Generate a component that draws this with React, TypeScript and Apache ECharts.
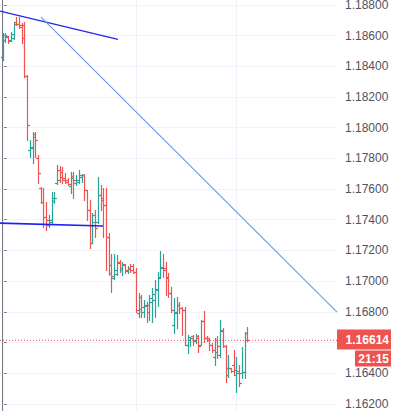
import React, { useEffect, useRef } from "react";
import * as echarts from "echarts";

// OHLC bars (EURUSD-like), one entry per bar, left to right
const opens = [
  1.1846, 1.1857, 1.1859, 1.1857, 1.18583, 1.18688, 1.18675, 1.18655, 1.18668, 1.18336,
  1.17854, 1.17867, 1.17958, 1.17802, 1.17606, 1.17515, 1.17417, 1.17365, 1.17385, 1.17521,
  1.17639, 1.17723, 1.1771, 1.17671, 1.17658, 1.17619, 1.17684, 1.17639, 1.17645, 1.17678,
  1.17691, 1.17593, 1.17463, 1.17248, 1.1743, 1.17385, 1.17561, 1.17541, 1.17495, 1.17287,
  1.17105, 1.1702, 1.17046, 1.17124, 1.17072, 1.17111, 1.17065, 1.17085, 1.17098, 1.17059,
  1.16792, 1.16896, 1.16798, 1.16837, 1.16844, 1.16863, 1.16876, 1.16942, 1.17026, 1.17092,
  1.17085, 1.1702, 1.16922, 1.16714, 1.16792, 1.16844, 1.16824, 1.16811, 1.16583, 1.16616,
  1.16642, 1.16609, 1.16629, 1.16583, 1.1674, 1.16629, 1.16629, 1.16583, 1.16505, 1.16616,
  1.16518, 1.16681, 1.16577, 1.16388, 1.16433, 1.16453, 1.16388, 1.16414, 1.16401, 1.16407,
  1.16661,
];
const highs = [
  1.18616, 1.18616, 1.18596, 1.18623, 1.18681, 1.1872, 1.1872, 1.18681, 1.18688, 1.18342,
  1.17919, 1.17971, 1.17971, 1.17821, 1.17613, 1.17606, 1.17515, 1.1743, 1.1758, 1.1758,
  1.17756, 1.1775, 1.17743, 1.17704, 1.17671, 1.1771, 1.1771, 1.17691, 1.17723, 1.17697,
  1.17697, 1.17593, 1.17528, 1.17443, 1.17463, 1.17678, 1.17626, 1.17606, 1.17606, 1.17313,
  1.17176, 1.17176, 1.1717, 1.17137, 1.17124, 1.17111, 1.17098, 1.17111, 1.17111, 1.17085,
  1.16922, 1.16909, 1.16876, 1.16863, 1.16909, 1.16955, 1.17007, 1.17059, 1.17196, 1.17176,
  1.17124, 1.17052, 1.16961, 1.1689, 1.16896, 1.16863, 1.16831, 1.16831, 1.16648, 1.16635,
  1.16648, 1.16655, 1.16648, 1.16746, 1.16805, 1.16642, 1.16629, 1.16596, 1.16629, 1.16642,
  1.16746, 1.16694, 1.16583, 1.16518, 1.16433, 1.16551, 1.16505, 1.16453, 1.1657, 1.16667,
  1.16701,
];
const lows = [
  1.1844, 1.18557, 1.18551, 1.18564, 1.18577, 1.18668, 1.18649, 1.18551, 1.18329, 1.17919,
  1.17808, 1.17769, 1.17808, 1.17639, 1.17508, 1.17352, 1.17333, 1.17352, 1.17378, 1.17508,
  1.17632, 1.17645, 1.17639, 1.17639, 1.17626, 1.17574, 1.17541, 1.17626, 1.17639, 1.17645,
  1.17528, 1.17398, 1.17215, 1.17248, 1.17287, 1.17378, 1.17463, 1.17287, 1.17072, 1.17039,
  1.16929, 1.17013, 1.17039, 1.17059, 1.17039, 1.17052, 1.17052, 1.17059, 1.17052, 1.16798,
  1.16766, 1.16766, 1.16766, 1.16733, 1.16746, 1.16733, 1.16766, 1.16837, 1.1702, 1.17026,
  1.16909, 1.16896, 1.16798, 1.16661, 1.16694, 1.16792, 1.16648, 1.16583, 1.16531, 1.16577,
  1.16583, 1.16596, 1.16538, 1.16583, 1.16603, 1.16609, 1.16551, 1.16538, 1.16453, 1.16499,
  1.16505, 1.1657, 1.16342, 1.16375, 1.16407, 1.16394, 1.16277, 1.16316, 1.16368, 1.16368,
  1.16609,
];
const closes = [
  1.18603, 1.18596, 1.18564, 1.18609, 1.18675, 1.18675, 1.18668, 1.18583, 1.18336, 1.18017,
  1.17873, 1.17938, 1.17919, 1.17704, 1.17515, 1.17417, 1.17398, 1.17398, 1.17541, 1.17541,
  1.17658, 1.17678, 1.17658, 1.17645, 1.17632, 1.17671, 1.17658, 1.17658, 1.17691, 1.17691,
  1.17593, 1.17463, 1.17248, 1.17385, 1.17346, 1.17561, 1.17528, 1.17495, 1.17287, 1.17052,
  1.17033, 1.17072, 1.17117, 1.17085, 1.17105, 1.17072, 1.17078, 1.17072, 1.17059, 1.16811,
  1.16818, 1.16831, 1.16844, 1.16798, 1.1689, 1.16916, 1.16948, 1.1702, 1.17085, 1.17072,
  1.17026, 1.16922, 1.16811, 1.16798, 1.16844, 1.16824, 1.16811, 1.16583, 1.16635, 1.16629,
  1.16616, 1.16642, 1.16577, 1.1674, 1.16629, 1.16616, 1.16583, 1.16551, 1.16538, 1.16577,
  1.16675, 1.16577, 1.16433, 1.16433, 1.16414, 1.1642, 1.16401, 1.16336, 1.16407, 1.16661,
  1.16614,
];

// Drawn trend lines: [bar index, price]
const upperTrend = [[-0.99, 1.18759], [42.4, 1.18575]];
const fallingTrend = [[14.1, 1.1872], [123, 1.16798]];
const supportLine = [[-0.99, 1.17378], [36.9, 1.17359]];
// Bars where a vertical (session) grid line is drawn
const sessionBreaks = [0, 49, 86];
const countdown = "21:15";

const UP = "#26a69a";
const DOWN = "#ef5350";
const X_MIN = -0.993;
const X_MAX = 123;

export default function App() {
  const ref = useRef<HTMLDivElement>(null);

  useEffect(() => {
    document.body.style.margin = "0";
    const chart = echarts.init(ref.current!, null, { renderer: "svg" });
    const ohlc = opens.map((o, i) => [i, o, closes[i], lows[i], highs[i]]);
    const last = closes[closes.length - 1];

    chart.setOption({
      animation: false,
      grid: {
        left: 0,
        right: 58,
        top: -25.9,
        height: 460.5,
        containLabel: false,
        outerBoundsMode: "none",
      },
      xAxis: {
        type: "value",
        min: X_MIN,
        max: X_MAX,
        show: false,
      },
      yAxis: {
        type: "value",
        position: "right",
        min: 1.16,
        max: 1.19,
        interval: 0.002,
        axisLine: { show: true, lineStyle: { color: "#787b86", width: 1 } },
        axisTick: { show: true, length: 4, lineStyle: { color: "#787b86" } },
        axisLabel: {
          margin: 8,
          color: "#50535e",
          fontSize: 12,
          fontFamily: "Liberation Sans, Arial, sans-serif",
          // labels hidden by the current-price tag or lying off the page are left out
          formatter: (v: number) =>
            Math.abs(v - last) < 0.0008 || v < 1.1615 || v > 1.1885 ? "" : v.toFixed(5),
        },
        splitLine: { show: true, lineStyle: { color: "#f0f3fa", width: 1 } },
      },
      series: [
        {
          type: "custom",
          z: 1,
          silent: true,
          data: sessionBreaks.map((i) => [i, last]),
          renderItem: (params: any, api: any) => {
            const p = api.coord([api.value(0), api.value(1)]);
            const cs = params.coordSys;
            const x = Math.round(p[0]) + 0.5;
            return {
              type: "line",
              shape: { x1: x, y1: cs.y, x2: x, y2: cs.y + cs.height },
              style: { stroke: "#f0f3fa", lineWidth: 1 },
            };
          },
        },
        {
          type: "custom",
          z: 2,
          silent: true,
          data: ohlc,
          renderItem: (_params: any, api: any) => {
            const i = api.value(0);
            const o = api.value(1);
            const c = api.value(2);
            const l = api.value(3);
            const h = api.value(4);
            const pO = api.coord([i, o]);
            const pC = api.coord([i, c]);
            const pL = api.coord([i, l]);
            const pH = api.coord([i, h]);
            const color = c >= o ? UP : DOWN;
            const x = Math.round(pO[0]) + 0.5;
            const yo = Math.round(pO[1]) + 0.5;
            const yc = Math.round(pC[1]) + 0.5;
            const tick = 2;
            const st = { stroke: color, lineWidth: 1.2 };
            return {
              type: "group",
              children: [
                { type: "line", shape: { x1: x, y1: Math.round(pH[1]), x2: x, y2: Math.round(pL[1]) + 1 }, style: st },
                { type: "line", shape: { x1: x - tick - 0.5, y1: yo, x2: x, y2: yo }, style: st },
                { type: "line", shape: { x1: x, y1: yc, x2: x + tick + 0.5, y2: yc }, style: st },
              ],
            };
          },
        },
        {
          type: "line",
          z: 3,
          data: [[X_MIN, last], [X_MAX, last]],
          showSymbol: false,
          silent: true,
          lineStyle: { color: DOWN, width: 1, type: [1, 2] },
        },
        {
          type: "line",
          z: 4,
          data: upperTrend,
          showSymbol: false,
          silent: true,
          lineStyle: { color: "#2424ee", width: 1.4 },
        },
        {
          type: "line",
          z: 4,
          data: fallingTrend,
          showSymbol: false,
          silent: true,
          lineStyle: { color: "#5b9cf6", width: 1.1 },
        },
        {
          type: "line",
          z: 4,
          data: supportLine,
          showSymbol: false,
          silent: true,
          lineStyle: { color: "#2020f5", width: 1.6 },
        },
      ],
    });

    const py = chart.convertToPixel({ xAxisIndex: 0, yAxisIndex: 0 }, [0, last])[1];
    const cy = Math.round(py) - 0.5;
    chart.setOption({
      graphic: [
        {
          type: "rect",
          z: 100,
          shape: { x: 337, y: cy - 10, width: 54, height: 20 },
          style: { fill: DOWN },
        },
        {
          type: "text",
          z: 101,
          x: 389,
          y: cy,
          style: {
            text: last.toFixed(5),
            fill: "#ffffff",
            font: "bold 12px 'Liberation Sans', Arial, sans-serif",
            textAlign: "right",
            textVerticalAlign: "middle",
          },
        },
        {
          type: "rect",
          z: 100,
          shape: { x: 355, y: cy + 11, width: 36, height: 16 },
          style: { fill: DOWN },
        },
        {
          type: "text",
          z: 101,
          x: 389,
          y: cy + 19,
          style: {
            text: countdown,
            fill: "#ffffff",
            font: "bold 12px 'Liberation Sans', Arial, sans-serif",
            textAlign: "right",
            textVerticalAlign: "middle",
          },
        },
      ],
    });

    return () => chart.dispose();
  }, []);

  return <div ref={ref} style={{ width: 395, height: 411 }} />;
}
